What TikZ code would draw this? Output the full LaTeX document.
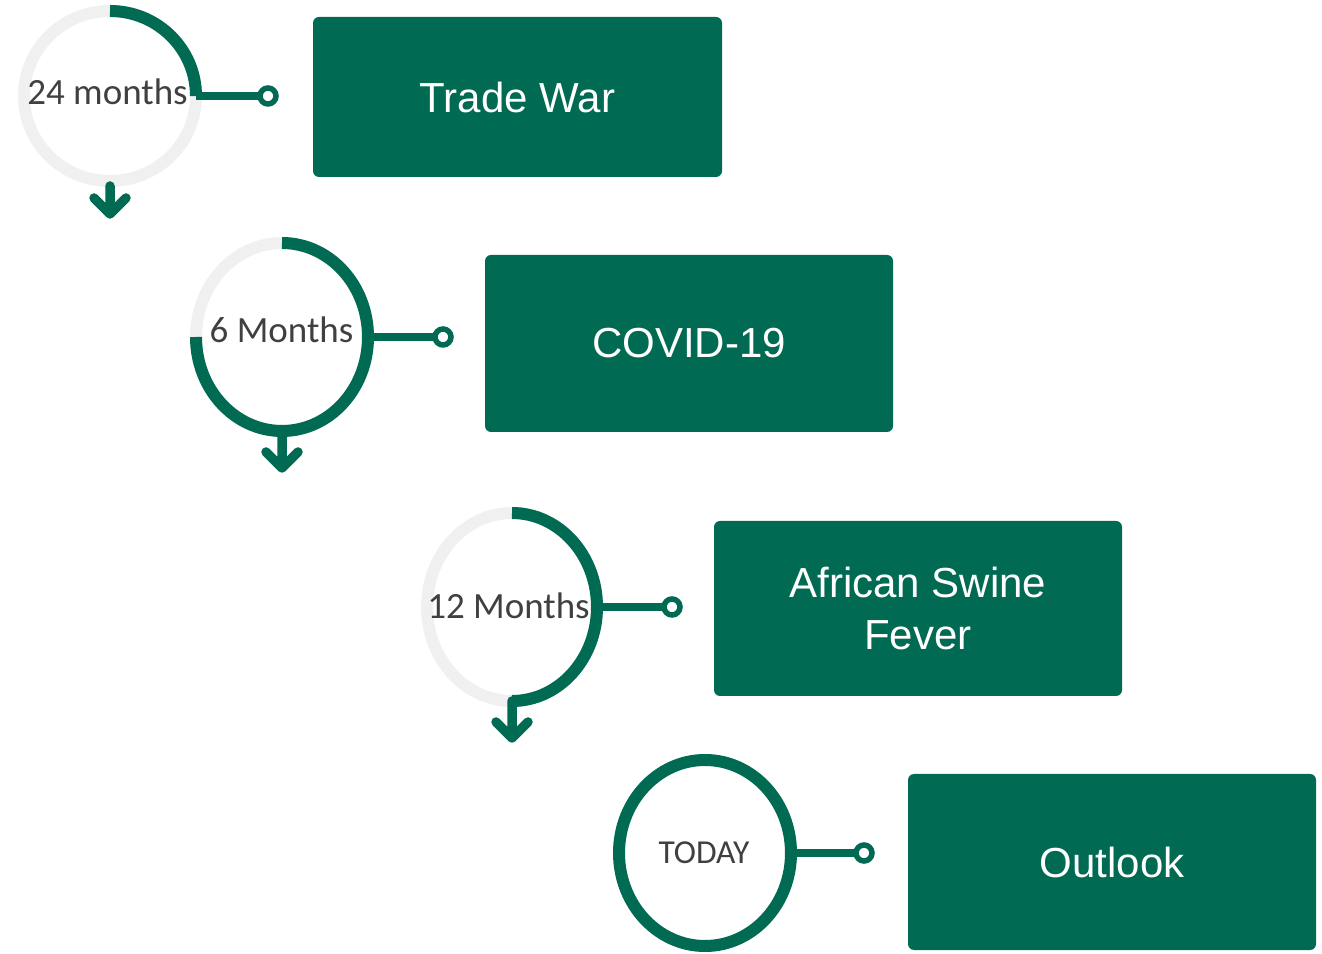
\documentclass[tikz,border=0pt]{standalone}
\usepackage{fontspec}
\setmainfont{Liberation Sans}
\newfontfamily\calfont{Carlito}
\usetikzlibrary{shapes.geometric}
\definecolor{grn}{RGB}{0,106,82}
\definecolor{ringgray}{RGB}{240,240,240}
\definecolor{lblgray}{RGB}{64,64,64}
\begin{document}
\begin{tikzpicture}[x=1pt,y=1pt,
 ringnode/.style={ellipse, draw=ringgray, line width=12pt, inner sep=0pt, outer sep=0pt},
 greenarc/.style={draw=grn, line width=12pt},
 conn/.style={draw=grn, line width=7.5pt},
 dot/.style={circle, draw=grn, fill=white, line width=5.5pt, minimum size=16pt, inner sep=0pt},
 arrowline/.style={draw=grn, line width=9.5pt, line cap=round, line join=round},
 box/.style={rectangle, fill=grn, rounded corners=6pt, text=white, font=\fontsize{42}{52}\selectfont, align=center, inner sep=0pt},
 lbl/.style={text=lblgray, font=\calfont\fontsize{37}{44}\selectfont, inner sep=0pt}
]
\useasboundingbox (0,0) rectangle (1322,953);

% ring 1
\node[ringnode, minimum width=172pt, minimum height=170pt] (r1) at (110,857) {};
\draw[greenarc] (r1.north) arc[start angle=90, end angle=0, x radius=86pt, y radius=85pt];
\node[dot] (d1) at (268,857) {};
\draw[conn] (r1.east) -- ([xshift=2pt]d1.west);
\coordinate (a1) at (110,739);
\draw[arrowline] ([yshift=-5pt]r1.south) -- (a1) ([shift={(-16pt,16pt)}]a1) -- (a1) -- ([shift={(16pt,16pt)}]a1);
\node[lbl] (l1) at (107.5,861) {24 months};

% ring 2
\node[ringnode, minimum width=172pt, minimum height=188pt] (r2) at (282,616) {};
\draw[greenarc] (r2.north) arc[start angle=90, end angle=-180, x radius=86pt, y radius=94pt];
\node[dot] (d2) at (443,616) {};
\draw[conn] (r2.east) -- ([xshift=2pt]d2.west);
\coordinate (a2) at (282,485);
\draw[arrowline] (r2.south) -- (a2) ([shift={(-16pt,16pt)}]a2) -- (a2) -- ([shift={(16pt,16pt)}]a2);
\node[lbl] (l2) at (281.5,623) {6 Months};

% ring 3
\node[ringnode, minimum width=170pt, minimum height=188pt] (r3) at (512,346) {};
\draw[greenarc] (r3.north) arc[start angle=90, end angle=-90, x radius=85pt, y radius=94pt];
\node[dot] (d3) at (672,346) {};
\draw[conn] (r3.east) -- ([xshift=2pt]d3.west);
\coordinate (a3) at (512,215);
\draw[arrowline] (r3.south) -- (a3) ([shift={(-16pt,16pt)}]a3) -- (a3) -- ([shift={(16pt,16pt)}]a3);
\node[lbl] (l3) at (508.5,347) {12 Months};

% ring 4
\node[ringnode, draw=grn, minimum width=172pt, minimum height=186pt] (r4) at (705,100) {};
\node[dot] (d4) at (864,100) {};
\draw[conn] (r4.east) -- ([xshift=2pt]d4.west);
\node[lbl, font=\calfont\fontsize{33.5}{40}\selectfont] (l4) at (704,100) {TODAY};

% boxes
\node[box, minimum width=409pt, minimum height=160pt] (b1) at (517.5,856) {Trade War};
\node[box, minimum width=408pt, minimum height=177pt] (b2) at (689,609.5) {COVID-19};
\node[box, minimum width=408pt, minimum height=175pt] (b3) at (918,344.5) {African Swine\\Fever};
\node[box, minimum width=408pt, minimum height=176pt] (b4) at (1112,91) {Outlook};
\end{tikzpicture}
\end{document}
